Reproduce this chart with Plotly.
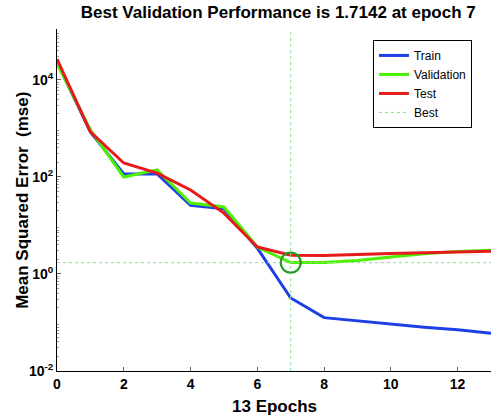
import plotly.graph_objects as go

# training record
epochs = list(range(14))
train = [2.3e4, 850, 115, 115, 26, 22, 3.4, 0.32, 0.126, 0.107, 0.092, 0.08, 0.071, 0.06]
validation = [2.2e4, 930, 100, 140, 29, 24, 3.6, 1.7142, 1.72, 1.9, 2.24, 2.6, 2.9, 3.1]
test = [2.7e4, 850, 194, 120, 54, 18, 3.6, 2.43, 2.4, 2.55, 2.65, 2.75, 2.85, 2.94]

best_epoch = 7
best_perf = 1.7142

ytick_vals = [1e-2, 1e0, 1e2, 1e4]
ytick_text = ["10<sup>-2</sup>", "10<sup>0</sup>", "10<sup>2</sup>", "10<sup>4</sup>"]
xtick_vals = [0, 2, 4, 6, 8, 10, 12]

# minor ticks for each decade
minor_vals = [m * 10 ** e for e in range(-2, 5) for m in range(2, 10)]

fig = go.Figure()
fig.add_trace(go.Scatter(x=epochs, y=train, name="Train", mode="lines",
                         line=dict(color="#1f3fe6", width=3)))
fig.add_trace(go.Scatter(x=epochs, y=validation, name="Validation", mode="lines",
                         line=dict(color="#4cf000", width=3)))
fig.add_trace(go.Scatter(x=epochs, y=test, name="Test", mode="lines",
                         line=dict(color="#e61a1a", width=3)))
# best lines
fig.add_trace(go.Scatter(x=[best_epoch, best_epoch, None, 0, 13],
                         y=[1e-2, 1e5, None, best_perf, best_perf],
                         name="Best", mode="lines",
                         line=dict(color="#8ee08e", width=1, dash="dot")))
fig.add_trace(go.Scatter(x=[best_epoch], y=[best_perf], mode="markers",
                         showlegend=False,
                         marker=dict(symbol="circle-open", size=20,
                                     color="#1f9a1f", line=dict(width=2))))

font_b = "Liberation Sans, Arial, sans-serif"
fig.update_layout(
    width=496, height=417,
    margin=dict(l=57, r=5, t=29, b=46),
    paper_bgcolor="white", plot_bgcolor="white",
    title=dict(text="Best Validation Performance is 1.7142 at epoch 7",
               x=0.561, xanchor="center", y=0.985, yanchor="top",
               font=dict(family=font_b, size=17, color="black", weight="bold")),
    legend=dict(x=0.728, y=0.968, xanchor="left", yanchor="top",
                bordercolor="black", borderwidth=1, bgcolor="white",
                font=dict(family=font_b, size=12, color="black"),
                tracegroupgap=0, itemwidth=30),
    xaxis=dict(range=[0, 13], tickvals=xtick_vals, ticks="inside", ticklen=4,
               showline=True, linecolor="black", linewidth=1, showgrid=False,
               zeroline=False, tickcolor="#666", automargin=False,
               tickfont=dict(family=font_b, size=14, color="black", weight="bold")),
    yaxis=dict(type="log", range=[-2, 5.05], tickvals=ytick_vals, ticktext=ytick_text,
               ticks="inside", ticklen=4, tickcolor="#666", automargin=False,
               minor=dict(tickvals=minor_vals, ticks="inside", ticklen=2,
                          tickcolor="#999", showgrid=False),
               showline=True, linecolor="black", linewidth=1, showgrid=False,
               zeroline=False,
               tickfont=dict(family=font_b, size=14, color="black", weight="bold")),
)

# axis titles placed as annotations so they sit where the original has them
label_font = dict(family=font_b, size=17, color="black", weight="bold")
fig.add_annotation(text="13 Epochs", xref="paper", yref="paper", x=0.5, y=-0.105,
                   xanchor="center", yanchor="middle", showarrow=False, font=label_font)
fig.add_annotation(text="Mean Squared Error  (mse)", xref="paper", yref="paper",
                   x=-0.081, y=0.5, xanchor="center", yanchor="middle",
                   textangle=-90, showarrow=False, font=label_font)

# drop the page margin so the figure sits at the window corner
fig.write_html("out.html", config={"displayModeBar": False},
               post_script="document.body.style.margin='0';")
